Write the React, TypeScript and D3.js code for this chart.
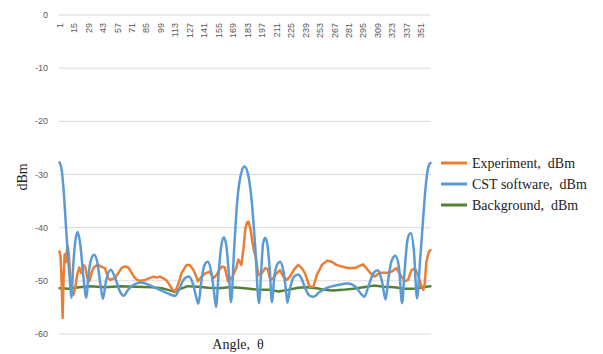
import React from "react";
import * as d3 from "d3";

const xTickLabels = [1, 15, 29, 43, 57, 71, 85, 99, 113, 127, 141, 155, 169, 183, 197, 211, 225, 239, 253, 267, 281, 295, 309, 323, 337, 351];
const yTicks = [0, -10, -20, -30, -40, -50, -60];
const seriesNames = ["Experiment,  dBm", "CST software,  dBm", "Background,  dBm"];

const cstAngles = [1, 3, 5, 7, 9, 11, 12.5, 14, 16, 18.5, 21, 24, 27, 29, 31.5, 34.5, 37.5, 40.5, 43, 46, 50.5, 55, 59, 63, 68, 74, 80, 88, 96, 104, 110, 113, 117, 121, 126, 130, 133, 135.4, 138, 141, 144.5, 148, 150.5, 152.5, 155, 157.5, 160, 162.5, 165, 167, 170, 173, 176.5, 180, 183.5, 187, 190.5, 194, 196.5, 198, 200, 202, 204.5, 206.5, 209, 212, 214.5, 217.5, 220, 221.5, 224, 228, 232, 235, 239, 243, 247, 252, 260, 270, 280, 288, 293, 296, 300, 305, 309, 313, 316.5, 319, 322, 326, 329.5, 332.5, 335, 338, 341, 344, 347, 350, 353, 355, 357, 359, 360];
const cstValues = [-27.7, -29, -33, -39, -45, -50, -53.2, -48, -43, -40.8, -43, -49, -53.2, -49, -46, -45.1, -46.5, -50.5, -53.4, -50, -47.9, -49.5, -51.8, -52.8, -51.5, -50.6, -50.3, -50.8, -51.5, -52.2, -52.7, -52.8, -51.5, -49.8, -49.2, -50.5, -52.8, -54.3, -50.5, -47.2, -46.4, -48.5, -52, -54.9, -48.5, -43.5, -41.8, -43.5, -49, -54, -44, -35, -30, -28.5, -30, -35, -44, -54.2, -47, -43, -41.9, -43, -48, -54, -49, -46.8, -46.4, -48, -51.5, -54.1, -51.5, -49.2, -48.8, -49.5, -51.5, -52.8, -53, -52.2, -51.3, -50.8, -50.5, -51.2, -52.5, -53, -51, -48.5, -48, -50, -53.5, -50, -46.5, -45.3, -47.5, -54.2, -48, -42, -41, -44.5, -53.3, -46, -38, -33, -29.5, -28, -27.8];

const expAngles = [1, 2, 3, 4, 5, 6, 7, 8, 9, 10, 11, 12, 13, 14.5, 16, 18, 20, 22, 24, 26, 28, 30, 32, 34, 36, 38, 41, 45, 48, 50, 53, 55, 58, 61, 64, 67, 70, 73, 76, 79, 83, 87, 92, 95, 98, 101, 104, 107, 110, 113, 116, 119, 122, 124, 127, 130.5, 133, 135, 138.5, 142, 146.5, 150, 153, 156, 158, 161, 164, 168.5, 172, 174, 177, 179, 181, 182.5, 184, 186, 187.5, 189, 191, 193.4, 196.7, 200, 202.5, 205, 208, 211, 214.4, 217.6, 221, 224, 228, 232, 235.4, 238.6, 241, 243, 246.7, 250, 255, 260, 264.5, 269, 274, 280, 286.7, 294.8, 299.6, 303, 306, 311, 319, 323, 327, 332, 335, 338.3, 341.6, 345, 348, 350.6, 353, 354.5, 356, 358.5, 360];
const expValues = [-44.5, -45.5, -50, -57, -49, -45, -46.5, -44.5, -43.5, -45, -48, -50.5, -52, -52.6, -51.5, -49, -47.5, -48.5, -47, -47.5, -49.5, -50, -48.5, -47.5, -47.2, -47, -47.3, -47.6, -49.5, -49.8, -49.6, -49.4, -48.5, -47.6, -47.3, -47.4, -48.2, -49.2, -49.8, -50, -49.9, -49.6, -49.2, -49.4, -49.2, -49.5, -49.8, -50.6, -51.6, -52, -50.6, -48.6, -47.6, -47, -47, -47.9, -49, -50.1, -49.2, -48.6, -48.3, -49.5, -48.9, -47.8, -47.3, -47.5, -50.1, -49.2, -47.6, -46, -47, -44, -40, -39, -38.9, -40.5, -42.5, -44.2, -45.6, -48.9, -48.6, -47.6, -47.8, -49.8, -49.5, -48.6, -48, -49.2, -49.8, -49.2, -47.9, -47, -47.6, -48.6, -50, -51.1, -51.1, -48.9, -47, -46.2, -46.4, -47, -47.3, -47.6, -47.6, -46.9, -48, -48.8, -49.2, -48.5, -48.5, -48.2, -47.6, -49.2, -50.1, -49.8, -48, -47.7, -48.9, -50.7, -51.7, -50.5, -46.4, -44.5, -44.2];

const bgAngles = [1, 10, 20, 30, 45, 60, 75, 90, 100, 108, 113, 118, 125, 135, 145, 155, 165, 175, 185, 195, 205, 213, 222, 232, 240, 250, 258, 265, 275, 285, 295, 305, 315, 325, 335, 345, 352, 360];
const bgValues = [-51.4, -51.5, -51.2, -51, -51.2, -51, -51.1, -51.2, -51.4, -51.8, -52.1, -51.5, -51, -51.1, -51.3, -51.4, -51.2, -51.3, -51.5, -51.7, -51.7, -52, -51.7, -51.3, -51.2, -51.4, -51.7, -51.8, -51.7, -51.5, -51.2, -50.9, -51.1, -51.2, -51.5, -51.5, -51.2, -51];

const colors = ["#ED7D31", "#5B9BD5", "#548235"];

const W = 603;
const H = 354;
const left = 59;
const right = 431;
const top = 15;
const bottom = 334;

const serif = '"Liberation Serif", "DejaVu Serif", "Times New Roman", serif';
const sans = '"Liberation Sans", Arial, sans-serif';

export default function App() {
  const x = d3.scaleLinear().domain([0.5, 360.5]).range([left, right]);
  const y = d3.scaleLinear().domain([0, -60]).range([top, bottom]);

  const series = [
    { angles: expAngles, values: expValues, curve: d3.curveLinear },
    { angles: cstAngles, values: cstValues, curve: d3.curveMonotoneX },
    { angles: bgAngles, values: bgValues, curve: d3.curveLinear },
  ];

  const makePath = (s: any) =>
    d3
      .line<number>()
      .x((a) => x(a))
      .y((_, i) => y(s.values[i]))
      .curve(s.curve)(s.angles) as string;

  // draw order: background, experiment, cst
  const order = [2, 0, 1];

  return (
    <svg
      width={W}
      height={H}
      style={{ position: "absolute", left: 0, top: 0, background: "#fff" }}
    >
      {yTicks.map((t) => (
        <g key={t}>
          <line x1={left} x2={right} y1={y(t)} y2={y(t)} stroke="#d9d9d9" strokeWidth={1} />
          <text
            x={48}
            y={y(t)}
            dy="0.35em"
            textAnchor="end"
            style={{ fontFamily: sans, fontSize: 9 }}
            fill="#595959"
          >
            {t}
          </text>
        </g>
      ))}
      {xTickLabels.map((t) => (
        <text
          key={t}
          transform={`translate(${x(t)},23) rotate(-90)`}
          dy="0.35em"
          textAnchor="end"
          style={{ fontFamily: sans, fontSize: 9 }}
          fill="#595959"
        >
          {t}
        </text>
      ))}
      {order.map((i) => (
        <path
          key={i}
          d={makePath(series[i])}
          fill="none"
          stroke={colors[i]}
          strokeWidth={2.5}
          strokeLinejoin="round"
          strokeLinecap="round"
        />
      ))}
      <text
        transform="translate(22,177) rotate(-90)"
        dy="0.35em"
        textAnchor="middle"
        style={{ fontFamily: serif, fontSize: 14 }}
        fill="#222"
      >
        dBm
      </text>
      <text
        x={238}
        y={349}
        textAnchor="middle"
        style={{ fontFamily: serif, fontSize: 14, whiteSpace: "pre" }}
        fill="#222"
      >
        {"Angle,  θ"}
      </text>
      {seriesNames.map((name, i) => (
        <g key={name} transform={`translate(441,${163 + i * 21})`}>
          <line x1={0} x2={26} y1={0} y2={0} stroke={colors[i]} strokeWidth={3} />
          <text
            x={31}
            y={0}
            dy="0.35em"
            style={{ fontFamily: serif, fontSize: 14, whiteSpace: "pre" }}
            fill="#222"
          >
            {name}
          </text>
        </g>
      ))}
    </svg>
  );
}
